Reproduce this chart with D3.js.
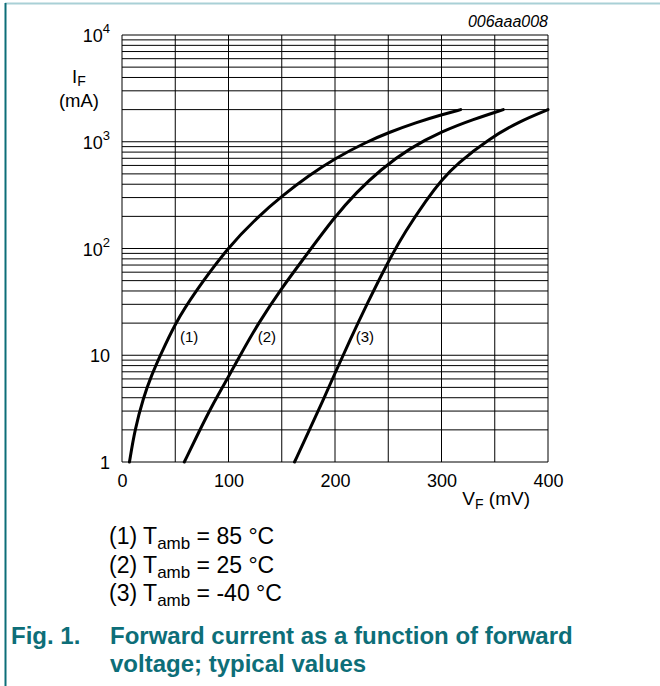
<!DOCTYPE html>
<html>
<head>
<meta charset="utf-8">
<script src="https://cdn.jsdelivr.net/npm/d3@7"></script>
<style>
  body { margin: 0; background: #fff; }
  svg { display: block; font-family: "Liberation Sans", Arial, sans-serif; }
</style>
</head>
<body>
<svg id="chart" width="660" height="686"></svg>
<script>
// forward voltage (mV) / forward current (mA)
const vf85 = [7, 12, 20, 28, 36, 50, 68, 100, 128, 150, 175, 200, 230, 250, 276, 301, 318]
const if85 = [1, 2, 4, 6.6, 10, 20, 38.5, 104, 200, 309, 479, 700, 1000, 1216, 1514, 1800, 2000]

const vf25 = [58.5, 72, 86, 100, 111, 128, 150, 170, 200, 220, 243, 270, 301, 330, 358]
const if25 = [1, 1.9, 3.6, 6.3, 10, 20, 42.7, 79, 200, 335, 550, 871, 1259, 1622, 2000]

const vfm40 = [162, 175, 188, 200, 214, 230, 250, 266, 286, 300, 314, 345, 373, 400]
const ifm40 = [1, 1.9, 3.63, 6.8, 13.8, 30.2, 75.9, 144.5, 288, 437, 617, 1072, 1549, 2000]

const curveNames = ['(1)', '(2)', '(3)']
const legendTemps = ['85 °C', '25 °C', '-40 °C']

const xTicks = [0, 100, 200, 300, 400]
const yTicks = [1, 10, 100, 1000, 10000]
const yTickExp = ['', '', '2', '3', '4']

const teal = '#0d6e78'

const svg = d3.select('#chart')

// page frame
svg.append('line').attr('x1', 5).attr('x2', 660).attr('y1', 3.5).attr('y2', 3.5)
  .attr('stroke', '#a9d0d6').attr('stroke-width', 2)
svg.append('line').attr('x1', 5.5).attr('x2', 5.5).attr('y1', 3).attr('y2', 686)
  .attr('stroke', teal).attr('stroke-width', 2)

const plot = {left: 122, right: 548, top: 35, bottom: 462}

const x = d3.scaleLinear().domain([0, 400]).range([plot.left, plot.right])
const y = d3.scaleLog().domain([1, 10000]).range([plot.bottom, plot.top])

// grid
const grid = svg.append('g')
grid.selectAll('line.h')
  .data(y.ticks())
  .join('line')
  .attr('class', 'h')
  .attr('x1', plot.left).attr('x2', plot.right)
  .attr('y1', d => y(d)).attr('y2', d => y(d))
  .attr('stroke', '#000').attr('stroke-width', 1)

grid.selectAll('line.v')
  .data(x.ticks(8))
  .join('line')
  .attr('class', 'v')
  .attr('x1', d => x(d)).attr('x2', d => x(d))
  .attr('y1', plot.top).attr('y2', plot.bottom)
  .attr('stroke', '#000').attr('stroke-width', 1)

// x axis labels
const xAxis = svg.append('g')
  .attr('transform', 'translate(0,' + plot.bottom + ')')
  .call(d3.axisBottom(x).tickValues(xTicks).tickSize(0).tickFormat(d3.format('d')))
xAxis.select('.domain').remove()
xAxis.selectAll('text').attr('font-size', 18).attr('font-family', null).attr('fill', '#000')
  .attr('dy', null).attr('y', 25)

// y axis labels with superscripts
const yAxis = svg.append('g')
  .attr('transform', 'translate(110,0)')
  .call(d3.axisLeft(y).tickValues(yTicks).tickSize(0).tickPadding(0).tickFormat(''))
yAxis.select('.domain').remove()
yAxis.selectAll('.tick text')
  .attr('font-size', 18).attr('font-family', null).attr('fill', '#000')
  .attr('dy', null).attr('y', 6.5).attr('x', 0)
  .each(function(d, i) {
    const t = d3.select(this)
    if (yTickExp[i]) {
      t.append('tspan').text('10')
      t.append('tspan').attr('font-size', 13).attr('dy', -9).text(yTickExp[i])
    } else {
      t.text(d)
    }
  })

// axis titles
const yTitle = svg.append('text').attr('x', 72).attr('y', 83).attr('font-size', 18.5)
yTitle.append('tspan').text('I')
yTitle.append('tspan').attr('font-size', 14).attr('dy', 3).text('F')
svg.append('text').attr('x', 79).attr('y', 107).attr('font-size', 18.5)
  .attr('text-anchor', 'middle').text('(mA)')

const xTitle = svg.append('text').attr('x', 530).attr('y', 505).attr('font-size', 19)
  .attr('text-anchor', 'end')
xTitle.append('tspan').text('V')
xTitle.append('tspan').attr('font-size', 14).attr('dy', 4).text('F')
xTitle.append('tspan').attr('dy', -4).text(' (mV)')

svg.append('text').attr('x', plot.right).attr('y', 27).attr('font-size', 16)
  .attr('font-style', 'italic').attr('text-anchor', 'end').text('006aaa008')

// curves
const series = [
  vf85.map((v, i) => [v, if85[i]]),
  vf25.map((v, i) => [v, if25[i]]),
  vfm40.map((v, i) => [v, ifm40[i]])
]

const line = d3.line()
  .x(d => x(d[0]))
  .y(d => y(d[1]))
  .curve(d3.curveBasis)

svg.selectAll('path.curve')
  .data(series)
  .join('path')
  .attr('class', 'curve')
  .attr('d', line)
  .attr('fill', 'none')
  .attr('stroke', '#000')
  .attr('stroke-width', 3)
  .attr('stroke-linecap', 'round')

// curve labels, placed in data units
const labelAt = [[54.5, 13.3], [127.5, 13.3], [219.5, 13.3]]
svg.selectAll('text.clabel')
  .data(curveNames)
  .join('text')
  .attr('class', 'clabel')
  .attr('x', (d, i) => x(labelAt[i][0]))
  .attr('y', (d, i) => y(labelAt[i][1]))
  .attr('font-size', 15)
  .text(d => d)

// legend
legendTemps.forEach(function(t, i) {
  const row = svg.append('text').attr('x', 109).attr('y', 544 + i * 28.5).attr('font-size', 23)
  row.append('tspan').text(curveNames[i] + ' T')
  row.append('tspan').attr('font-size', 17).attr('dy', 5).text('amb')
  row.append('tspan').attr('dy', -5).text(' = ' + t)
})

// caption
const cap = svg.append('g').attr('fill', teal).attr('font-weight', 'bold').attr('font-size', 24)
cap.append('text').attr('x', 11).attr('y', 644).text('Fig. 1.')
cap.append('text').attr('x', 110).attr('y', 644).text('Forward current as a function of forward')
cap.append('text').attr('x', 110).attr('y', 672).text('voltage; typical values')
</script>
</body>
</html>
